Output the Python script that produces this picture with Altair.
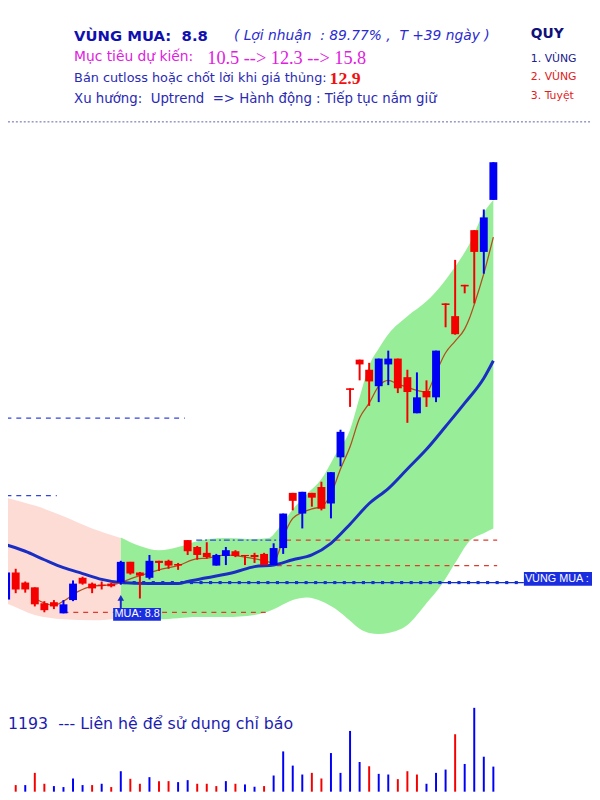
import altair as alt
import pandas as pd

# ---------------- data ----------------
open_ = [8.48, 8.99, 8.80, 8.71, 8.41, 8.43, 8.22, 8.47, 8.89, 8.78,
         8.76, 8.78, 8.80, 9.19, 8.99, 8.89, 9.21, 9.21, 9.15, 9.60,
         9.47, 9.36, 9.12, 9.30, 9.39, 9.32, 9.32, 9.34, 9.13, 9.45,
         10.49, 10.10, 10.49, 10.60, 10.29, 11.16, 12.46, 13.00, 12.81, 12.50,
         12.91, 13.02, 12.67, 11.99, 12.41, 12.29, 14.06, 13.82, 14.41, 15.44,
         15.03, 16.01]
high = [9.02, 9.06, 8.82, 8.71, 8.45, 8.47, 8.47, 8.84, 8.91, 8.80,
        8.82, 8.80, 9.21, 9.19, 9.00, 9.32, 9.21, 9.23, 9.17, 9.60,
        9.49, 9.56, 9.34, 9.47, 9.41, 9.32, 9.36, 9.36, 9.54, 10.10,
        10.49, 10.51, 10.49, 10.70, 10.88, 11.68, 12.46, 13.00, 12.94, 13.02,
        13.17, 13.02, 12.81, 12.76, 12.61, 13.17, 14.06, 14.88, 14.41, 15.44,
        15.83, 16.72]
low = [8.45, 8.60, 8.61, 8.35, 8.24, 8.30, 8.22, 8.45, 8.76, 8.60,
       8.67, 8.71, 8.76, 8.95, 8.50, 8.86, 9.02, 9.06, 9.04, 9.32,
       9.23, 9.25, 9.12, 9.13, 9.28, 9.13, 9.17, 9.13, 9.13, 9.34,
       10.16, 9.82, 10.23, 10.16, 10.01, 10.99, 12.11, 12.61, 12.13, 12.20,
       12.52, 12.37, 11.81, 11.99, 12.11, 12.20, 13.61, 13.47, 14.25, 14.06,
       14.62, 16.01]
close = [8.99, 8.67, 8.67, 8.39, 8.28, 8.35, 8.39, 8.78, 8.78, 8.69,
         8.74, 8.73, 9.19, 8.97, 8.93, 9.21, 9.17, 9.12, 9.12, 9.39,
         9.32, 9.28, 9.32, 9.41, 9.30, 9.30, 9.28, 9.13, 9.45, 10.10,
         10.34, 10.51, 10.40, 10.19, 10.88, 11.64, 12.43, 12.91, 12.59, 13.02,
         13.02, 12.46, 12.39, 12.29, 12.29, 13.17, 14.03, 13.48, 14.38, 15.03,
         15.68, 16.72]

volume = [40, 20, 20, 57, 24, 17, 14, 40, 20, 20,
          24, 14, 62, 39, 24, 44, 32, 32, 29, 35,
          24, 24, 17, 32, 24, 22, 15, 17, 49, 122,
          79, 52, 57, 40, 117, 57, 184, 90, 77, 54,
          52, 38, 62, 52, 24, 57, 67, 174, 84, 254,
          106, 76]
volume_dir = ["up", "down", "up", "down", "down", "up", "up", "up", "up", "down",
              "up", "down", "up", "down", "down", "up", "down", "down", "up", "up",
              "down", "down", "down", "up", "down", "up", "up", "down", "up", "up",
              "up", "up", "down", "down", "up", "up", "up", "up", "down", "up",
              "up", "down", "down", "down", "up", "up", "up", "down", "up", "up",
              "up", "up"]

pink_i = [-1, 0, 3, 6, 9, 12]
pink_up = [10.45, 10.40, 10.25, 10.05, 9.82, 9.64]
pink_lo = [8.47, 8.41, 8.19, 8.11, 8.09, 8.13]

green_i = [12, 14, 16, 18, 20, 23, 26, 27.5, 28.5, 30, 31.5, 33, 34.5, 36, 37, 38,
           39, 40, 42, 44, 45.5, 47, 48.5, 50, 51]
green_up = [9.65, 9.49, 9.41, 9.47, 9.58, 9.64, 9.62, 9.64, 9.82, 10.18, 10.47, 10.75,
            11.22, 11.68, 12.29, 12.89, 13.21, 13.48, 13.82, 14.10, 14.39, 14.75,
            15.18, 15.77, 16.01]
green_lo = [8.15, 8.13, 8.11, 8.13, 8.15, 8.15, 8.19, 8.26, 8.34, 8.47, 8.52, 8.45,
            8.30, 8.08, 7.93, 7.85, 7.83, 7.85, 8.00, 8.41, 8.74, 9.17, 9.58, 9.73,
            9.82]

ma_long_i = [-1, 0, 2, 4, 6, 8, 10, 12, 15, 18, 19, 21, 24, 26, 28, 30, 32, 34, 36,
             38, 40, 42, 44, 46, 48, 50, 51]
ma_long = [9.55, 9.51, 9.39, 9.23, 9.08, 8.97, 8.86, 8.80, 8.78, 8.78, 8.82, 8.89,
           9.00, 9.10, 9.13, 9.23, 9.32, 9.54, 9.90, 10.29, 10.57, 10.94, 11.31,
           11.74, 12.18, 12.65, 12.98]

ma_short_i = [3, 5, 6, 7.5, 9, 11, 12, 13, 14, 16, 18, 20, 21, 23, 25, 27, 28, 28.5,
              29, 30, 31, 32, 33, 34, 35, 36, 37, 38, 39, 40, 41, 42, 43, 44, 45, 46,
              47, 48, 48.5, 49, 50, 51]
ma_short = [8.50, 8.37, 8.45, 8.63, 8.73, 8.76, 8.80, 8.87, 8.93, 9.04, 9.12, 9.25,
            9.26, 9.32, 9.28, 9.21, 9.17, 9.36, 9.64, 10.01, 10.12, 10.19, 10.23,
            10.47, 10.94, 11.36, 11.90, 12.18, 12.50, 12.61, 12.54, 12.48, 12.42,
            12.39, 12.76, 13.13, 13.35, 13.58, 13.78, 14.04, 14.62, 15.31]

# horizontal reference levels: price, start index, end index
blue_dash_price = [11.90, 10.44]
blue_dash_start = [-1, -1]
blue_dash_end = [18.7, 5.3]
red_dash_price = [8.24, 9.60, 9.12]
red_dash_start = [6.0, 29.3, 27.3]
red_dash_end = [27.3, 51.4, 51.4]
dashdot_price = [9.60]
dashdot_start = [19.9]
dashdot_end = [28.8]

buy_price = 8.8
buy_index = 12

BLUE = "#0000f5"
RED = "#f50000"
NB = "\u00a0"

# ---------------- frames ----------------
n = len(open_)
idx = list(range(n))
candles = pd.DataFrame({"i": idx, "open": open_, "high": high, "low": low, "close": close,
                        "dir": ["up" if c > o else "down" for o, c in zip(open_, close)]})
vol_df = pd.DataFrame({"i": idx, "v": volume, "z": [0] * n, "dir": volume_dir})
pink = pd.DataFrame({"i": pink_i, "up": pink_up, "lo": pink_lo})
green = pd.DataFrame({"i": green_i, "up": green_up, "lo": green_lo})
ma_l = pd.DataFrame({"i": ma_long_i, "v": ma_long})
ma_s = pd.DataFrame({"i": ma_short_i, "v": ma_short})
bdash = pd.DataFrame({"p": blue_dash_price, "a": blue_dash_start, "b": blue_dash_end})
rdash = pd.DataFrame({"p": red_dash_price, "a": red_dash_start, "b": red_dash_end})
ddash = pd.DataFrame({"p": dashdot_price, "a": dashdot_start, "b": dashdot_end})
buy_line = pd.DataFrame({"p": [buy_price], "a": [buy_index], "b": [54.2]})
buy_dots = pd.DataFrame({"i": [k + 0.4 for k in range(buy_index, 54)],
                         "p": [buy_price] * (54 - buy_index)})
one = pd.DataFrame({"k": [0]})

XS = alt.Scale(domain=[0.71, 60.81], nice=False, zero=False)
YS = alt.Scale(domain=[4.804, 19.525], nice=False, zero=False)
col = alt.Color("dir:N", scale=alt.Scale(domain=["up", "down"], range=[BLUE, RED]), legend=None)


def X(f="i"):
    return alt.X(f"{f}:Q", scale=XS, axis=None)


def Y(f):
    return alt.Y(f"{f}:Q", scale=YS, axis=None)


layers = []
layers.append(alt.Chart(pink).mark_area(color="#fddcd6", interpolate="monotone").encode(
    x=X(), y=Y("up"), y2="lo:Q"))
layers.append(alt.Chart(green).mark_area(color="#98ee98", interpolate="monotone").encode(
    x=X(), y=Y("up"), y2="lo:Q"))
layers.append(alt.Chart(bdash).mark_rule(color="#3344dd", strokeWidth=1.3, strokeDash=[5, 5]).encode(
    x=X("a"), x2="b:Q", y=Y("p")))
layers.append(alt.Chart(rdash).mark_rule(color="#e03a2a", strokeWidth=1.3, strokeDash=[5, 5]).encode(
    x=X("a"), x2="b:Q", y=Y("p")))
layers.append(alt.Chart(ddash).mark_rule(color="#3344dd", strokeWidth=1.3, strokeDash=[6, 3, 2, 3]).encode(
    x=X("a"), x2="b:Q", y=Y("p")))
layers.append(alt.Chart(buy_line).mark_rule(color="#1530d0", strokeWidth=1.2).encode(
    x=X("a"), x2="b:Q", y=Y("p")))
layers.append(alt.Chart(buy_dots).mark_square(color="#1530d0", size=10, opacity=1).encode(
    x=X(), y=Y("p")))
layers.append(alt.Chart(ma_l).mark_line(color="#1a2ec4", strokeWidth=3, interpolate="monotone").encode(
    x=X(), y=Y("v")))
layers.append(alt.Chart(ma_s).mark_line(color="#b0501e", strokeWidth=1.3, interpolate="monotone").encode(
    x=X(), y=Y("v")))
layers.append(alt.Chart(candles).mark_rule(strokeWidth=2).encode(
    x=X(), y=Y("low"), y2="high:Q", color=col))
layers.append(alt.Chart(candles).mark_bar(size=8).encode(
    x=X(), y=Y("open"), y2="close:Q", color=col))

# buy arrow + label
arrow = pd.DataFrame({"i": [buy_index], "a": [8.30], "b": [8.50], "t": [8.51]})
layers.append(alt.Chart(arrow).mark_rule(color="#1a2ec4", strokeWidth=2).encode(
    x=X(), y=Y("a"), y2="b:Q"))
layers.append(alt.Chart(arrow).mark_point(shape="triangle-up", filled=True, size=45,
                                          color="#1a2ec4", opacity=1).encode(x=X(), y=Y("t")))
mua_box = pd.DataFrame({"a": [11.2], "b": [16.2], "y1": [8.32], "y2": [8.08],
                        "tx": [11.35], "ty": [8.20], "txt": ["MUA: 8.8"]})
layers.append(alt.Chart(mua_box).mark_rect(color="#1a2ee0").encode(
    x=X("a"), x2="b:Q", y=Y("y1"), y2="y2:Q"))
layers.append(alt.Chart(mua_box).mark_text(color="white", font="Liberation Sans", fontSize=11,
                                           align="left", baseline="middle").encode(
    x=X("tx"), y=Y("ty"), text="txt:N"))
zone_box = pd.DataFrame({"a": [54.2], "b": [62.0], "y1": [9.00], "y2": [8.74],
                         "tx": [54.3], "ty": [8.87], "txt": ["VÙNG MUA :"]})
layers.append(alt.Chart(zone_box).mark_rect(color="#1a2ee0").encode(
    x=X("a"), x2="b:Q", y=Y("y1"), y2="y2:Q"))
layers.append(alt.Chart(zone_box).mark_text(color="white", font="Liberation Sans", fontSize=11,
                                            align="left", baseline="middle").encode(
    x=X("tx"), y=Y("ty"), text="txt:N"))

# volume
layers.append(alt.Chart(vol_df).mark_rule(strokeWidth=2).encode(
    x=X(), y=alt.Y("v:Q", scale=alt.Scale(domain=[0, 254], range=[789, 704], nice=False, zero=False),
                   axis=None),
    y2="z:Q", color=col))


def txt(s, x, y, size=13, color="#2424b4", weight="normal", style="normal",
        font="DejaVu Sans"):
    return alt.Chart(one).mark_text(text=s, fontSize=size, color=color, fontWeight=weight,
                                    fontStyle=style, font=font, align="left",
                                    baseline="middle").encode(x=alt.value(x), y=alt.value(y))


layers += [
    txt("VÙNG MUA:", 67, 23, size=15, color="#1010b0", weight="bold"),
    txt("8.8", 176, 23, size=15, color="#1010b0", weight="bold"),
    txt(f"( Lợi nhuận{NB} : 89.77% ,{NB} T +39 ngày )", 229, 23, size=14, color="#2a2ad0",
        style="italic"),
    txt("Mục tiêu dự kiến:", 67, 44, size=14, color="#e020e0"),
    txt(f"10.5 --> 12.3 --> 15.8", 202, 45, size=18.5, color="#e020e0", font="Liberation Serif"),
    txt("Bán cutloss hoặc chốt lời khi giá thủng:", 67, 66, size=13, color="#2a2ab4"),
    txt("12.9", 326, 67, size=18, color="#f01010", weight="bold", font="Liberation Serif"),
    txt(f"Xu hướng:{NB} Uptrend{NB} => Hành động : Tiếp tục nắm giữ", 67, 87, size=13.5,
        color="#2a2ab4"),
    txt("QUY", 530, 21, size=14, color="#10107a", weight="bold"),
    txt("1. VÙNG", 530, 46, size=11, color="#20208a"),
    txt("2. VÙNG", 530, 65, size=11, color="#e02020"),
    txt("3. Tuyệt", 530, 84, size=11, color="#e02020"),
    txt(f"1193{NB} --- Liên hệ để sử dụng chỉ báo", 0, 720, size=16, color="#1c1cb0"),
]
layers.append(alt.Chart(one).mark_rule(color="#5a64a8", strokeWidth=1, strokeDash=[2, 2]).encode(
    x=alt.value(0), x2=alt.value(592), y=alt.value(110)))

chart = alt.layer(*layers).resolve_scale(y="independent").properties(
    width=592, height=792, autosize="none", padding=0
).configure_view(stroke="transparent")

chart.save("out.html", embed_options={"renderer": "svg", "actions": False})
